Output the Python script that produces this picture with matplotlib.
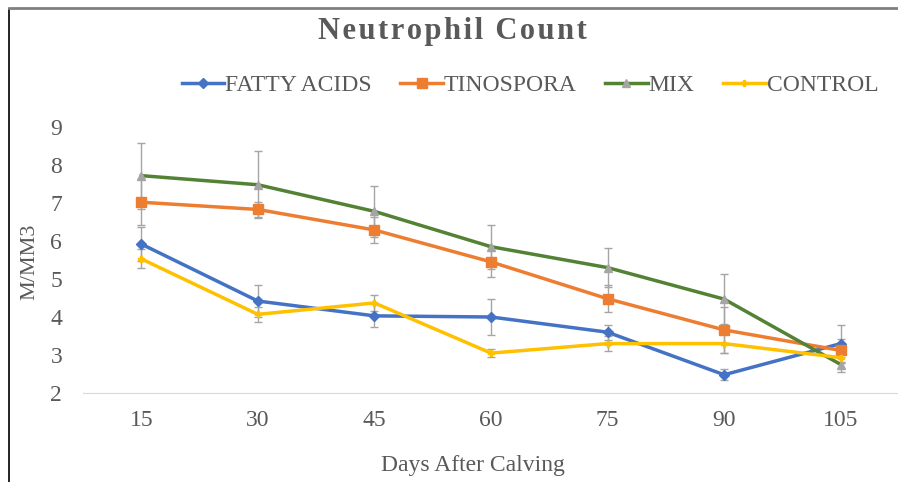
import matplotlib.pyplot as plt
from matplotlib.lines import Line2D

days = ["15", "30", "45", "60", "75", "90", "105"]

fatty_acids = [5.92, 4.42, 4.03, 4.0, 3.6, 2.48, 3.3]
fatty_err = [0.45, 0.42, 0.3, 0.47, 0.2, 0.15, 0.5]

tinospora = [7.02, 6.83, 6.29, 5.45, 4.48, 3.66, 3.12]
tinospora_err = [0.6, 0.2, 0.35, 0.4, 0.35, 0.6, 0.3]

mix = [7.72, 7.48, 6.78, 5.85, 5.3, 4.47, 2.75]
mix_err = [0.87, 0.88, 0.68, 0.58, 0.52, 0.66, 0.2]

control = [5.53, 4.07, 4.37, 3.05, 3.3, 3.3, 2.93]
control_err = [0.25, 0.2, 0.2, 0.1, 0.2, 0.25, 0.15]

plt.rcParams["font.family"] = ["Liberation Serif", "DejaVu Serif"]

fig = plt.figure(figsize=(8.98, 4.82), dpi=100)
ax = fig.add_axes([83 / 898, (482 - 393) / 482, (899 - 83) / 898, (393 - 127) / 482])

x = range(len(days))
series = [
    ("FATTY ACIDS", fatty_acids, fatty_err, "#4472C4", "D", "#4472C4", 5),
    ("TINOSPORA", tinospora, tinospora_err, "#ED7D31", "s", "#ED7D31", 7),
    ("MIX", mix, mix_err, "#548235", "^", "#A5A5A5", 6),
    ("CONTROL", control, control_err, "#FFC000", "P", "#FFC000", 5),
]

for name, vals, err, color, marker, mcolor, ms in series:
    ax.errorbar(x, vals, yerr=err, fmt="none", ecolor="#A5A5A5",
                elinewidth=1, capsize=3, capthick=1, zorder=2)
    ax.plot(x, vals, color=color, lw=2.5, marker=marker, markersize=ms,
            markerfacecolor=mcolor, markeredgecolor=mcolor, label=name, zorder=3)

ax.set_xlim(-0.5, len(days) - 0.5)
ax.set_ylim(2, 9)
ax.set_xticks(list(x))
ax.set_xticklabels(days)
ax.set_yticks(range(2, 10))
ax.tick_params(length=0, labelsize=17, labelcolor="#595959")
ax.tick_params(axis="x", pad=12)
ax.tick_params(axis="y", pad=15)
for side in ["top", "right", "left"]:
    ax.spines[side].set_visible(False)
ax.spines["bottom"].set_color("#D9D9D9")

title = "\u200a".join("Neutrophil") + "\u2009\u2009" + "\u200a".join("Count")
fig.text(452 / 898, 1 - 32 / 482, title, ha="center", va="center",
         fontsize=22, fontweight="bold", color="#595959")
fig.text(30 / 898, 1 - 262 / 482, "M/MM3", rotation=90, ha="center", va="center",
         fontsize=16, color="#595959")
fig.text(473 / 898, 1 - 465 / 482, "Days After Calving", ha="center", va="center",
         fontsize=17, color="#595959")

leg = fig.legend(loc="center", bbox_to_anchor=(530 / 898, 1 - 85 / 482), ncol=4,
                 frameon=False, fontsize=17, handlelength=1.8, handletextpad=0.05,
                 columnspacing=1.2, labelcolor="#595959", borderpad=0)

# outer frame
fig.add_artist(Line2D([9 / 898, 9 / 898], [0, 1 - 9 / 482], color="black", lw=1.2,
                      transform=fig.transFigure))
fig.add_artist(Line2D([9 / 898, 1], [1 - 8 / 482, 1 - 8 / 482], color="#808080", lw=2,
                      transform=fig.transFigure))

fig.savefig("out.png", dpi=100)
